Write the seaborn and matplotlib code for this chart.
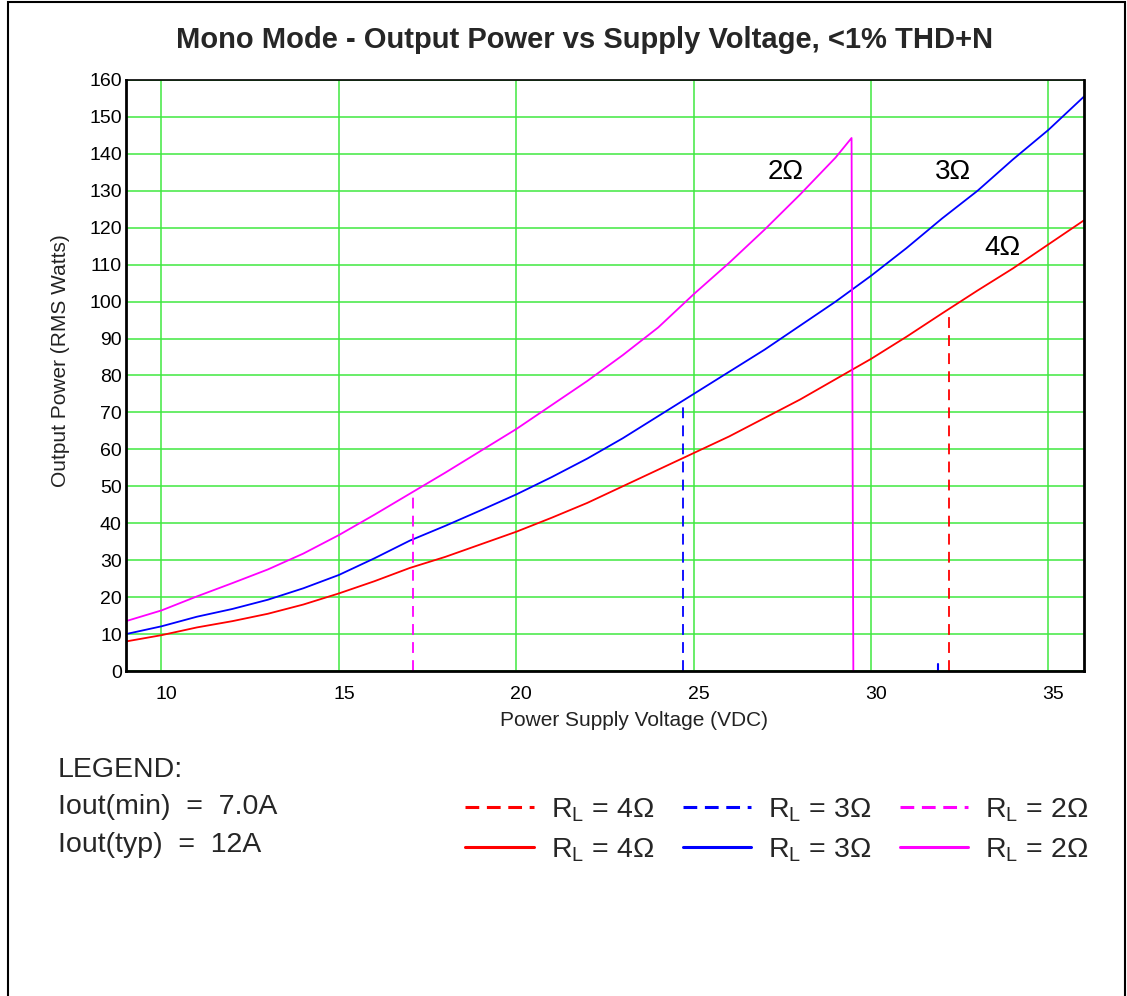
import matplotlib
matplotlib.use("Agg")
import matplotlib.pyplot as plt
import matplotlib.transforms as mtransforms
from matplotlib.lines import Line2D
from matplotlib.patches import Rectangle
import seaborn as sns

sns.set_style('white')
plt.rcParams['font.family'] = ['Liberation Sans', 'DejaVu Sans']
plt.rcParams['mathtext.fontset'] = 'custom'
plt.rcParams['mathtext.rm'] = 'Liberation Sans'

# supply voltage (VDC)
volts = [9, 10, 11, 12, 13, 14, 15, 16, 17, 18, 19, 20, 21, 22, 23, 24, 25,
         26, 27, 28, 29, 30, 31, 32, 33, 34, 35, 36]
# output power (RMS watts), Iout(typ) curves
p_4ohm = [8, 9.7, 11.8, 13.5, 15.5, 18, 21, 24.3, 27.9, 30.9, 34.3, 37.7, 41.5,
          45.5, 50, 54.5, 59, 63.5, 68.5, 73.5, 79, 84.5, 90.5, 96.8, 103, 109,
          115.5, 122]
p_3ohm = [10, 12.1, 14.7, 16.8, 19.3, 22.4, 26, 30.5, 35.3, 39.3, 43.5, 47.8,
          52.5, 57.5, 63, 69, 75, 81, 87, 93.5, 100, 107, 114.5, 122.5, 130,
          138.5, 146.5, 155.5]
volts_2ohm = [9, 10, 11, 12, 13, 14, 15, 16, 17, 18, 19, 20, 21, 22, 23, 24,
              25, 26, 27, 28, 29, 29.45, 29.5]
p_2ohm = [13.5, 16.4, 20.2, 23.8, 27.5, 31.8, 36.8, 42.3, 48, 53.7, 59.6, 65.5,
          72, 78.5, 85.5, 93, 102, 110.5, 119.5, 129, 139, 144.3, 0]

# Iout(min) limits: (voltage, power at the limit)
min_4ohm = (32.2, 97.5)
min_3ohm = (24.7, 73.5)
min_2ohm = (17.1, 48.3)
blue_mark = (31.9, 2)

curve_labels = ['2Ω', '3Ω', '4Ω']
curve_label_pos = [(27.6, 135), (32.3, 135), (33.7, 114.6)]

fig = plt.figure(figsize=(11.27, 9.96), dpi=100)
ax = fig.add_axes([0.1118, 0.3263, 0.850, 0.5934])

grid_green = '#40e840'
ax.set_xlim(9, 36)
ax.set_ylim(0, 160)
ax.set_xticks([10, 15, 20, 25, 30, 35])
ax.set_yticks(range(0, 161, 10))
ax.grid(True, color=grid_green, lw=1.1)
ax.set_axisbelow(True)

sns.lineplot(x=volts, y=p_4ohm, color='red', lw=1.3, ax=ax)
sns.lineplot(x=volts, y=p_3ohm, color='blue', lw=1.3, ax=ax)
sns.lineplot(x=volts_2ohm, y=p_2ohm, color='magenta', lw=1.3, ax=ax, sort=False)

dash = (0, (6, 4))
for (v, p), c in [(min_4ohm, 'red'), (min_3ohm, 'blue'), (min_2ohm, 'magenta')]:
    ax.plot([v, v], [0, p], color=c, lw=1.3, ls=dash)
ax.plot([blue_mark[0]] * 2, [0, blue_mark[1]], color='blue', lw=1.5)

for txt, (x, y) in zip(curve_labels, curve_label_pos):
    ax.text(x, y, txt, fontsize=20, ha='center', va='center', color='black')

for s in ax.spines.values():
    s.set_color('black')
    s.set_linewidth(2)
ax.spines['top'].set_linewidth(1.2)

ax.tick_params(axis='both', length=0, labelsize=14, colors='black')
ax.tick_params(axis='x', pad=11)
ax.tick_params(axis='y', pad=3)
# x tick labels sit a little right of their grid lines in the original
shift = mtransforms.ScaledTranslation(5 / 100, 0, fig.dpi_scale_trans)
for lab in ax.get_xticklabels():
    lab.set_transform(lab.get_transform() + shift)

ax.set_xlabel('Power Supply Voltage (VDC)', fontsize=15, color='#222222')
ax.set_ylabel('Output Power (RMS Watts)', fontsize=15, color='#222222')
ax.xaxis.set_label_coords(0.53, -0.068)
ax.yaxis.set_label_coords(-0.058, 0.525)

fig.text(0.519, 0.96, 'Mono Mode - Output Power vs Supply Voltage, <1% THD+N',
         fontsize=21, fontweight='bold', ha='center', va='center')

# legend block
fig.text(0.0515, 0.2269, 'LEGEND:', fontsize=20.5, va='center')
fig.text(0.0515, 0.1898, 'Iout(min)  =  7.0A', fontsize=20.5, va='center')
fig.text(0.0515, 0.1516, 'Iout(typ)  =  12A', fontsize=20.5, va='center')

handles = []
labels = []
for c, r in [('red', '4'), ('blue', '3'), ('magenta', '2')]:
    handles.append(Line2D([], [], color=c, lw=2.2, ls=(0, (4.5, 2.5))))
    labels.append(r'R$_{\rm L}$ = ' + r + 'Ω')
    handles.append(Line2D([], [], color=c, lw=2.2))
    labels.append(r'R$_{\rm L}$ = ' + r + 'Ω')
fig.legend(handles, labels, ncol=3, loc='upper left',
           bbox_to_anchor=(0.413, 0.201), frameon=False, fontsize=20.5,
           handlelength=2.4, handletextpad=0.6, columnspacing=1.0,
           labelspacing=0.44, borderpad=0, borderaxespad=0)

# outer frame
fig.add_artist(Rectangle((8 / 1127, -0.01), (1125 - 8) / 1127, 1.008,
                         transform=fig.transFigure, fill=False,
                         edgecolor='black', lw=1.5))

fig.savefig('out.png', dpi=100)
